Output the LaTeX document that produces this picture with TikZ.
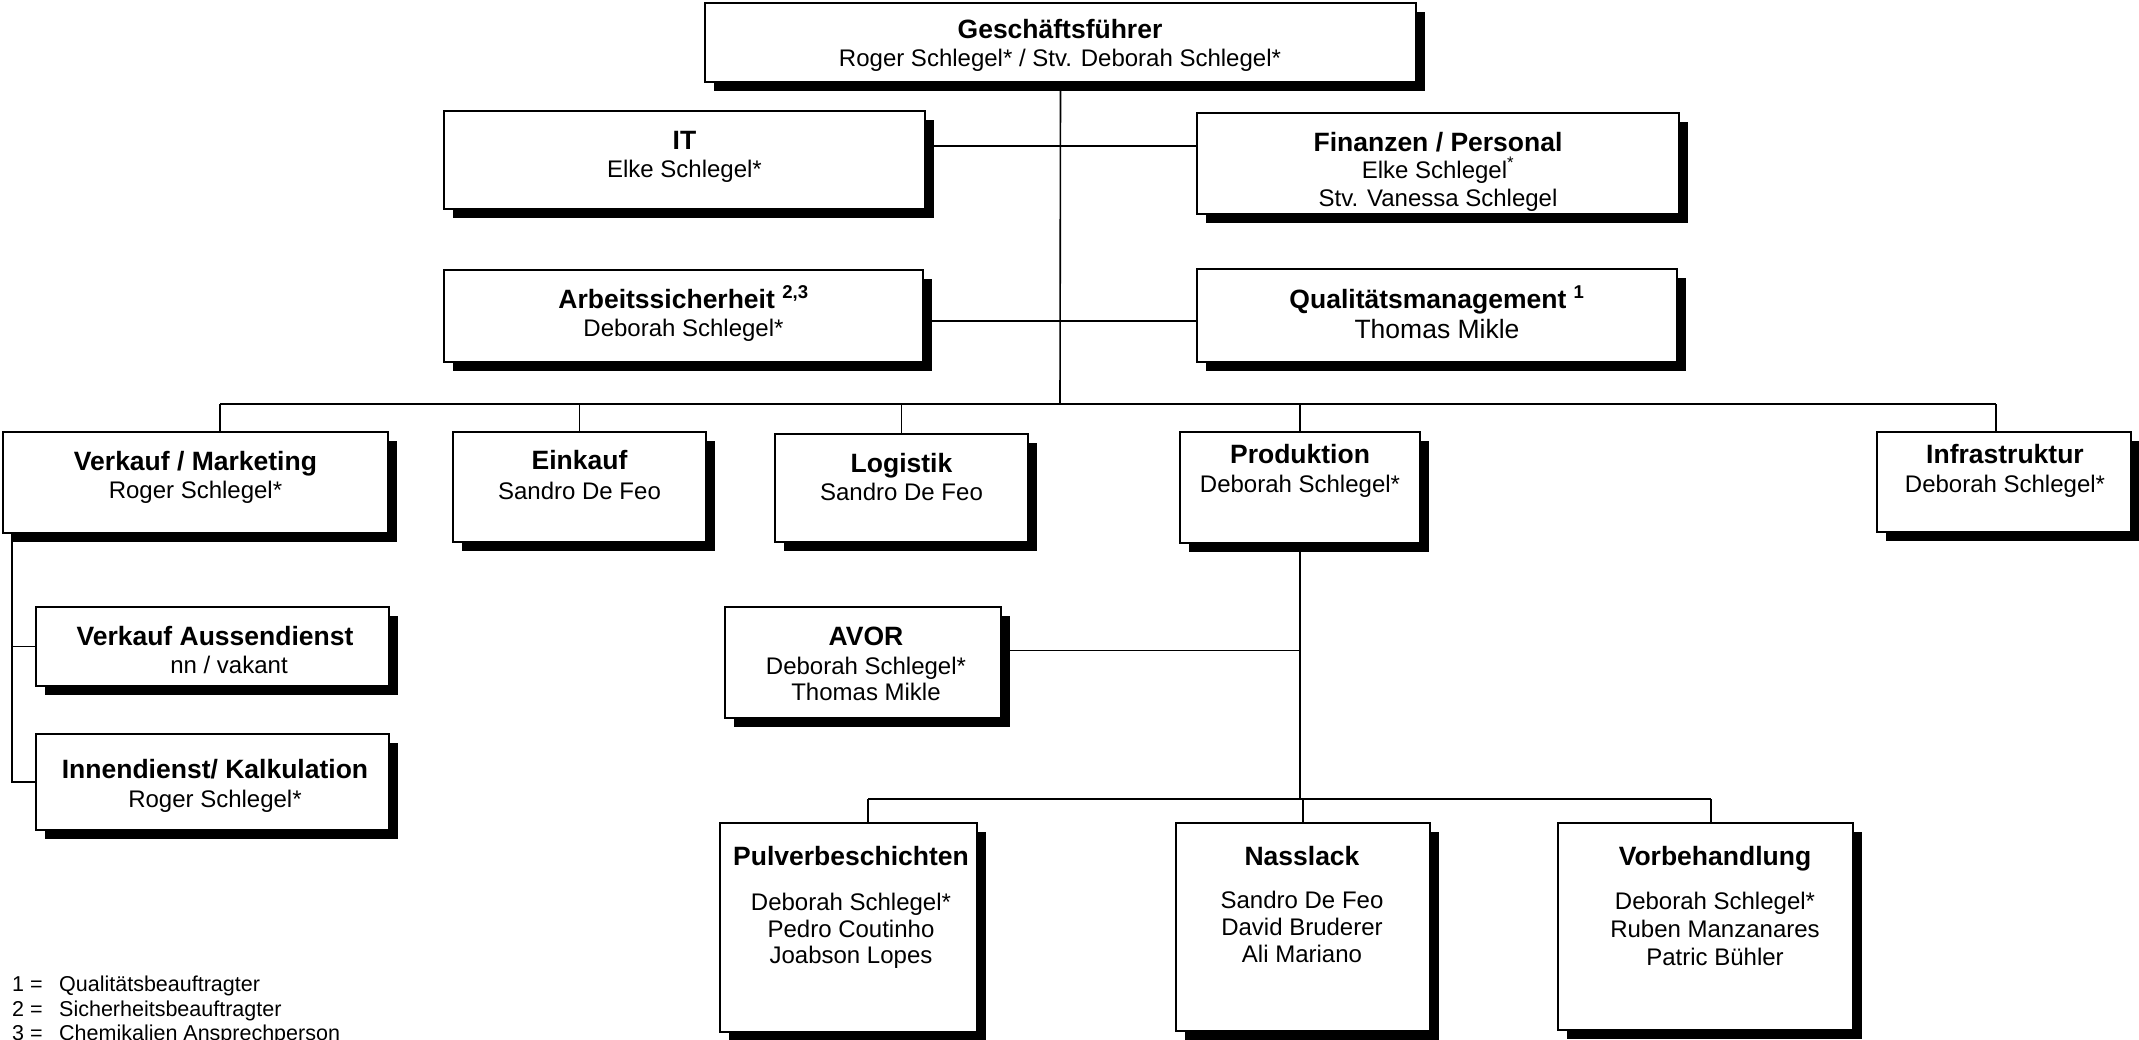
\documentclass[tikz,border=0pt]{standalone}
\usepackage{fontspec}
\setmainfont{Liberation Sans}
\usetikzlibrary{shadows}
\tikzset{
  obox/.style={draw, line width=2pt, fill=white, rectangle, outer sep=0pt, inner sep=0pt,
    drop shadow={shadow xshift=9pt, shadow yshift=-9pt, fill=black, opacity=1}},
  ttl/.style={anchor=base, inner sep=0pt, font=\fontsize{26.5}{30}\selectfont\bfseries},
  nm/.style={anchor=base, inner sep=0pt, font=\fontsize{24}{28}\selectfont},
  nmbig/.style={anchor=base, inner sep=0pt, font=\fontsize{26.5}{30}\selectfont},
  fn/.style={anchor=base west, inner sep=0pt, font=\fontsize{21.5}{26}\selectfont},
  conn/.style={line width=1.6pt}
}
% \orgbox{name}{x1}{y1}{x2}{y2}
\newcommand{\orgbox}[5]{\node[obox, minimum width={(#4-#2)*1pt}, minimum height={(#5-#3)*1pt}] (#1) at ({(#2+#4)/2},{(#3+#5)/2}) {};}
\begin{document}
\begin{tikzpicture}[x=1pt, y=-1pt]
\path[fill=white, use as bounding box] (0,0) rectangle (2139,1039);

% coordinates for buses
\coordinate (bus) at (1060,404);
\coordinate (busL) at (220,404);
\coordinate (busR) at (1996,404);
\coordinate (lt) at (12,783);
\coordinate (sub) at (1300,799);
\coordinate (subL) at (868,799);
\coordinate (subR) at (1711,799);

% boxes
\orgbox{gf}{705}{3}{1416}{82}
\orgbox{it}{444}{111}{925}{209}
\orgbox{fin}{1197}{113}{1679}{214}
\orgbox{arb}{444}{270}{923}{362}
\orgbox{qm}{1197}{269}{1677}{362}
\orgbox{vm}{3}{432}{388}{533}
\orgbox{ek}{453}{432}{706}{542}
\orgbox{lg}{775}{434}{1028}{542}
\orgbox{pr}{1180}{432}{1420}{543}
\orgbox{inf}{1877}{432}{2131}{532}
\orgbox{va}{36}{607}{389}{686}
\orgbox{id}{36}{734}{389}{830}
\orgbox{avor}{725}{607}{1001}{718}
\orgbox{pul}{720}{823}{977}{1032}
\orgbox{nas}{1176}{823}{1430}{1031}
\orgbox{vor}{1558}{823}{1853}{1030}

% connectors
\begin{scope}[conn]
\draw (gf.south) -- (bus);
\draw ([yshift=14pt]it.east) -- ([yshift=14pt]it.east -| fin.west);
\draw ([yshift=-5pt]arb.east) -- ([yshift=-5pt]arb.east -| qm.west);
\draw (busL) -- (busR);
\draw (busL) -- (busL |- vm.north);
\draw (ek.north |- bus) -- (ek.north);
\draw (lg.north |- bus) -- (lg.north);
\draw (pr.north |- bus) -- (pr.north);
\draw (busR) -- (busR |- inf.north);
\draw (vm.south -| lt) -- (lt |- id.west) -- (id.west);
\draw (lt |- va.west) -- (va.west);
\draw ([yshift=12pt]avor.east) -- ([yshift=12pt]avor.east -| pr.south);
\draw (pr.south) -- (sub);
\draw (subL) -- (subR);
\draw (subL) -- (subL |- pul.north);
\draw (nas.north |- sub) -- (nas.north);
\draw (subR) -- (subR |- vor.north);
\end{scope}

% texts
\node[ttl] (gf-t) at (1060,38) {Geschäftsführer};
\node[nm] (gf-n) at (1060,66) {Roger Schlegel* / Stv. Deborah Schlegel*};

\node[ttl] (it-t) at (684.5,149) {IT};
\node[nm] (it-n) at (684.5,177) {Elke Schlegel*};

\node[ttl] (fin-t) at (1438,151) {Finanzen / Personal};
\node[nm] (fin-n1) at (1438,178) {Elke Schlegel\textsuperscript{*}};
\node[nm] (fin-n2) at (1438,206) {Stv. Vanessa Schlegel};

\node[ttl] (arb-t) at (683.5,308) {Arbeitssicherheit \textsuperscript{2,3}};
\node[nm] (arb-n) at (683.5,336) {Deborah Schlegel*};

\node[ttl] (qm-t) at (1437,308) {Qualitätsmanagement \textsuperscript{1}};
\node[nmbig] (qm-n) at (1437,338) {Thomas Mikle};

\node[ttl] (vm-t) at (195.5,470) {Verkauf / Marketing};
\node[nm] (vm-n) at (195.5,498) {Roger Schlegel*};

\node[ttl] (ek-t) at (579.5,469) {Einkauf};
\node[nm] (ek-n) at (579.5,499) {Sandro De Feo};

\node[ttl] (lg-t) at (901.5,472) {Logistik};
\node[nm] (lg-n) at (901.5,500) {Sandro De Feo};

\node[ttl] (pr-t) at (1300,463) {Produktion};
\node[nm] (pr-n) at (1300,492) {Deborah Schlegel*};

\node[ttl] (inf-t) at (2005,463) {Infrastruktur};
\node[nm] (inf-n) at (2005,492) {Deborah Schlegel*};

\node[ttl] (va-t) at (215,645) {Verkauf Aussendienst};
\node[nm] (va-n) at (229,673) {nn / vakant};

\node[ttl] (id-t) at (215,778) {Innendienst/ Kalkulation};
\node[nm] (id-n) at (215,807) {Roger Schlegel*};

\node[ttl] (avor-t) at (866,645) {AVOR};
\node[nm] (avor-n1) at (866,674) {Deborah Schlegel*};
\node[nm] (avor-n2) at (866,700) {Thomas Mikle};

\node[ttl] (pul-t) at (851,865) {Pulverbeschichten};
\node[nm] (pul-n1) at (851,910) {Deborah Schlegel*};
\node[nm] (pul-n2) at (851,937) {Pedro Coutinho};
\node[nm] (pul-n3) at (851,963) {Joabson Lopes};

\node[ttl] (nas-t) at (1302,865) {Nasslack};
\node[nm] (nas-n1) at (1302,908) {Sandro De Feo};
\node[nm] (nas-n2) at (1302,935) {David Bruderer};
\node[nm] (nas-n3) at (1302,962) {Ali Mariano};

\node[ttl] (vor-t) at (1715,865) {Vorbehandlung};
\node[nm] (vor-n1) at (1715,909) {Deborah Schlegel*};
\node[nm] (vor-n2) at (1715,937) {Ruben Manzanares};
\node[nm] (vor-n3) at (1715,965) {Patric Bühler};

% footnotes
\node[fn] (f1a) at (12,991) {1 =};
\node[fn] (f1b) at (59,991) {Qualitätsbeauftragter};
\node[fn] (f2a) at (12,1016) {2 =};
\node[fn] (f2b) at (59,1016) {Sicherheitsbeauftragter};
\node[fn] (f3a) at (12,1040) {3 =};
\node[fn] (f3b) at (59,1040) {Chemikalien Ansprechperson};
\end{tikzpicture}
\end{document}
